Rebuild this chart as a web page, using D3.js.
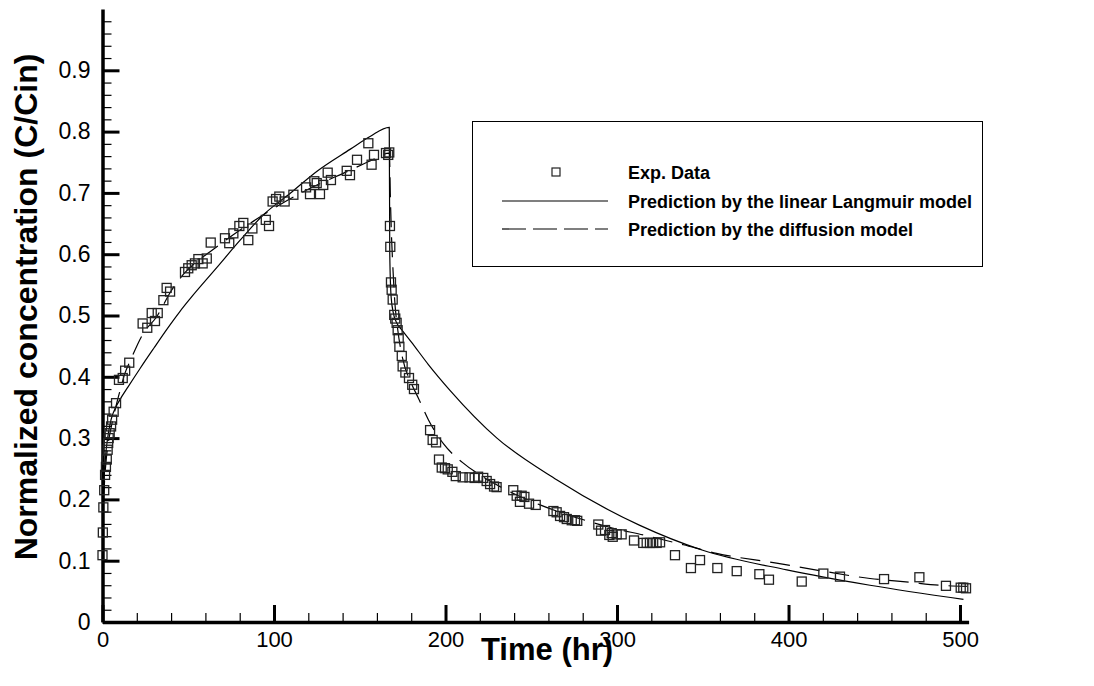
<!DOCTYPE html>
<html>
<head>
<meta charset="utf-8">
<script src="https://cdn.jsdelivr.net/npm/d3@7"></script>
<style>
  body { margin: 0; background: #fff; }
  svg { font-family: Arial, "Liberation Sans", sans-serif; }
</style>
</head>
<body>
<div id="chart"></div>
<script>
// experimental points (time in hr, C/Cin)
const expTime = [0.0, 0.2, 0.5, 1.0, 1.5, 2.0, 2.5, 3.0, 3.3, 3.6, 4.2, 5.0, 5.6, 6.5, 7.9, 9.6, 11.8, 13.2, 15.6,
  23.4, 26.1, 28.7, 30.6, 32.2, 35.5, 37.4, 39.4, 48.1, 50.0, 52.0, 53.9, 55.9, 58.4, 60.8, 63.1, 71.4, 73.9, 76.3,
  79.8, 82.1, 85.0, 87.4, 95.2, 97.1, 99.2, 101.2, 103.1, 106.2, 111.3, 118.7, 121.0, 123.5, 124.9, 126.8, 128.7,
  131.3, 133.2, 142.4, 144.3, 148.4, 155.0, 156.9, 158.3, 165.3, 166.6, 167.2,
  167.6, 167.8, 168.2, 168.6, 169.2, 170.1, 170.7, 171.5, 172.1, 172.7, 173.1, 174.5, 175.0, 176.6, 178.7, 180.6, 181.6,
  191.0, 192.5, 194.5, 196.2, 197.8, 199.7, 201.3, 204.0, 206.0, 210.0, 214.0, 217.0, 219.0, 222.0, 224.0, 226.0,
  228.3, 229.8, 239.5, 241.5, 243.4, 244.4, 246.0, 248.7, 252.6, 262.9, 264.8, 266.8, 269.1, 270.7, 273.6, 275.5, 276.8,
  289.1, 290.7, 293.0, 295.5, 296.9, 297.5, 299.8, 302.7, 309.9, 315.3, 317.3, 319.2, 321.1, 323.1, 325.1,
  333.8, 343.1, 348.4, 358.5, 369.8, 383.0, 388.6, 407.7, 420.3, 430.0, 455.7, 476.3, 491.8, 500.4, 501.9, 503.5];
const expConc = [0.109, 0.146, 0.187, 0.215, 0.240, 0.253, 0.265, 0.281, 0.292, 0.300, 0.308, 0.319, 0.330, 0.343, 0.357, 0.395, 0.398, 0.410, 0.423,
  0.487, 0.480, 0.504, 0.491, 0.504, 0.525, 0.545, 0.539, 0.571, 0.577, 0.582, 0.585, 0.592, 0.585, 0.593, 0.619, 0.626, 0.618, 0.634,
  0.646, 0.651, 0.623, 0.642, 0.656, 0.646, 0.686, 0.690, 0.694, 0.686, 0.697, 0.709, 0.698, 0.719, 0.716, 0.698, 0.713,
  0.733, 0.721, 0.736, 0.729, 0.754, 0.781, 0.746, 0.762, 0.765, 0.762, 0.766,
  0.646, 0.612, 0.554, 0.542, 0.526, 0.501, 0.495, 0.488, 0.476, 0.463, 0.449, 0.434, 0.417, 0.407, 0.398, 0.387, 0.380,
  0.313, 0.297, 0.293, 0.265, 0.252, 0.251, 0.249, 0.245, 0.238, 0.236, 0.236, 0.235, 0.237, 0.235, 0.230, 0.225,
  0.221, 0.220, 0.215, 0.206, 0.196, 0.206, 0.204, 0.193, 0.191, 0.181, 0.179, 0.173, 0.171, 0.168, 0.166, 0.166, 0.165,
  0.159, 0.149, 0.150, 0.142, 0.145, 0.139, 0.143, 0.143, 0.133, 0.129, 0.129, 0.129, 0.129, 0.129, 0.130,
  0.109, 0.088, 0.101, 0.088, 0.083, 0.078, 0.069, 0.066, 0.079, 0.074, 0.070, 0.073, 0.059, 0.056, 0.056, 0.055];

// linear Langmuir model curve
const langTime = [0, 0.5, 1.5, 3, 5, 8, 10, 15, 22, 30, 37.4, 45, 51, 66.6, 80, 93.7, 109.3, 124.9, 144.3, 156, 167.2,
  167.5, 168.3, 169.6, 171.5, 174.4, 180, 190, 202.6, 230, 264.8, 313, 350, 399, 447.5, 502];
const langConc = [0.10, 0.20, 0.26, 0.30, 0.33, 0.352, 0.362, 0.384, 0.414, 0.447, 0.477, 0.506, 0.527, 0.578, 0.622, 0.664, 0.699, 0.735, 0.771, 0.792, 0.807,
  0.60, 0.53, 0.504, 0.488, 0.477, 0.457, 0.42, 0.378, 0.300, 0.232, 0.158, 0.117, 0.085, 0.060, 0.037];

// diffusion model curve
const diffTime = [0, 0.5, 1, 2, 3, 4.5, 6, 8.3, 10, 13.1, 16, 23.8, 31.6, 40, 47.1, 55, 62.7, 70.4, 93.6, 117.1, 144.3, 156, 167.3,
  167.8, 168.5, 169.2, 170.5, 172, 175, 180, 184.2, 190, 199, 210, 220, 233.7, 255.1, 274.5, 297.8, 315.3, 338.7, 358, 393, 420, 447.5, 470, 488, 504];
const diffConc = [0.10, 0.19, 0.22, 0.26, 0.285, 0.31, 0.33, 0.357, 0.375, 0.406, 0.425, 0.471, 0.498, 0.54, 0.567, 0.588, 0.604, 0.62, 0.664, 0.702, 0.737, 0.752, 0.765,
  0.70, 0.63, 0.585, 0.52, 0.48, 0.43, 0.39, 0.365, 0.33, 0.29, 0.26, 0.24, 0.218, 0.191, 0.172, 0.153, 0.142, 0.126, 0.112, 0.096, 0.083, 0.071, 0.065, 0.060, 0.058];

const xTicks = [0, 100, 200, 300, 400, 500];
const yTicks = [0, 0.1, 0.2, 0.3, 0.4, 0.5, 0.6, 0.7, 0.8, 0.9];
const legendLabels = ['Exp. Data', 'Prediction by the linear Langmuir model', 'Prediction by the diffusion model'];

const width = 1094, height = 686;
const margin = { left: 102.5, top: 9, right: 1094 - 968.6, bottom: 686 - 622 };
const plotW = width - margin.left - margin.right;
const plotH = height - margin.top - margin.bottom;

const svg = d3.select('#chart').append('svg')
    .attr('width', width)
    .attr('height', height);
const g = svg.append('g').attr('transform', 'translate(' + margin.left + ',' + margin.top + ')');

const scaleX = d3.scaleLinear().domain([0, 505]).range([0, plotW]);
const scaleY = d3.scaleLinear().domain([0, 1]).range([plotH, 0]);

// minor ticks first (thin), then major axes on top
const xMinor = d3.range(0, 505, 20).filter((v) => v % 100 !== 0);
const yMinor = d3.range(0, 50).map((i) => i * 0.02).filter((v, i) => i % 5 !== 0);

g.append('g')
    .attr('transform', 'translate(0,' + plotH + ')')
    .call(d3.axisBottom(scaleX).tickValues(xMinor).tickSize(-9).tickFormat(''))
    .call((a) => a.select('.domain').remove())
    .call((a) => a.selectAll('line').attr('stroke', '#000').attr('stroke-width', 1.2));
g.append('g')
    .call(d3.axisLeft(scaleY).tickValues(yMinor).tickSize(-9).tickFormat(''))
    .call((a) => a.select('.domain').remove())
    .call((a) => a.selectAll('line').attr('stroke', '#000').attr('stroke-width', 1.2));

const xAxis = g.append('g')
    .attr('transform', 'translate(0,' + plotH + ')')
    .call(d3.axisBottom(scaleX).tickValues(xTicks).tickSizeInner(-17).tickSizeOuter(0).tickPadding(9).tickFormat(d3.format('d')));
xAxis.select('.domain').attr('stroke-width', 3.5);
xAxis.selectAll('line').attr('stroke-width', 3);
xAxis.selectAll('text').attr('font-size', 22).attr('fill', '#000');

const yAxis = g.append('g')
    .call(d3.axisLeft(scaleY).tickValues(yTicks).tickSizeInner(-17).tickSizeOuter(0).tickPadding(12)
        .tickFormat((d) => d === 0 ? '0' : d3.format('.1f')(d)));
yAxis.select('.domain').attr('stroke-width', 3.5);
yAxis.selectAll('line').attr('stroke-width', 3);
yAxis.selectAll('text').attr('font-size', 23).attr('fill', '#000');

// axis titles
svg.append('text')
    .attr('x', 547).attr('y', 660)
    .attr('text-anchor', 'middle')
    .attr('font-size', 31).attr('font-weight', 'bold')
    .text('Time (hr)');
svg.append('text')
    .attr('transform', 'translate(37,307) rotate(-90)')
    .attr('text-anchor', 'middle')
    .attr('font-size', 32).attr('font-weight', 'bold')
    .text('Normalized concentration (C/Cin)');

// model curves
const lineGen = d3.line()
    .x((d) => scaleX(d[0]))
    .y((d) => scaleY(d[1]))
    .curve(d3.curveMonotoneX);

g.append('path')
    .datum(langTime.map((t, i) => [t, langConc[i]]))
    .attr('fill', 'none')
    .attr('stroke', '#000')
    .attr('stroke-width', 1.2)
    .attr('d', lineGen);

g.append('path')
    .datum(diffTime.map((t, i) => [t, diffConc[i]]))
    .attr('fill', 'none')
    .attr('stroke', '#000')
    .attr('stroke-width', 1.2)
    .attr('stroke-dasharray', '20,10')
    .attr('d', lineGen);

// experimental squares
const sq = 9;
g.selectAll('.exp')
    .data(expTime.map((t, i) => [t, expConc[i]]))
    .enter().append('rect')
    .attr('class', 'exp')
    .attr('x', (d) => scaleX(d[0]) - sq / 2)
    .attr('y', (d) => scaleY(d[1]) - sq / 2)
    .attr('width', sq).attr('height', sq)
    .attr('fill', 'none')
    .attr('stroke', '#222')
    .attr('stroke-width', 1.3);

// legend
const legend = svg.append('g');
legend.append('rect')
    .attr('x', 472.5).attr('y', 121.5)
    .attr('width', 510).attr('height', 145)
    .attr('fill', '#fff')
    .attr('stroke', '#000')
    .attr('stroke-width', 1);
const rowY = [172, 201, 229];
legend.append('rect')
    .attr('x', 556 - 4).attr('y', rowY[0] - 4)
    .attr('width', 8).attr('height', 8)
    .attr('fill', 'none').attr('stroke', '#222').attr('stroke-width', 1.2);
legend.append('line')
    .attr('x1', 502).attr('x2', 608).attr('y1', rowY[1]).attr('y2', rowY[1])
    .attr('stroke', '#000').attr('stroke-width', 1.2);
legend.append('line')
    .attr('x1', 502).attr('x2', 608).attr('y1', rowY[2]).attr('y2', rowY[2])
    .attr('stroke', '#000').attr('stroke-width', 1.2)
    .attr('stroke-dasharray', '24,7');
legend.selectAll('.lbl')
    .data(legendLabels)
    .enter().append('text')
    .attr('x', 628)
    .attr('y', (d, i) => rowY[i] + 6.5)
    .attr('font-size', 18).attr('font-weight', 'bold')
    .text((d) => d);
</script>
</body>
</html>
